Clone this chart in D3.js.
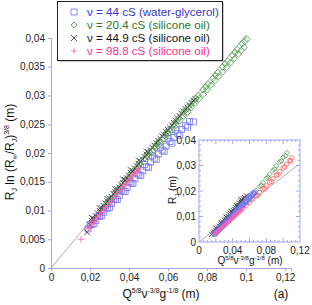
<!DOCTYPE html>
<html>
<head>
<meta charset="utf-8">
<script src="https://cdn.jsdelivr.net/npm/d3@7"></script>
<style>
  body { margin: 0; background: #fff; }
  svg { font-family: "Liberation Sans", Arial, sans-serif; }
</style>
</head>
<body>
<div id="chart"></div>
<script>
// main plot: R_J ln(R_inf/R_J)^(3/8) vs Q^(5/8) nu^(-3/8) g^(-1/8)
var waterGlyMain = [[0.019,0.0068],[0.021,0.0076],[0.023,0.0083],[0.025,0.0090],[0.027,0.0097],[0.029,0.0104],[0.031,0.0112],[0.033,0.0119],[0.035,0.0126],[0.037,0.0133],[0.039,0.0140],[0.041,0.0148],[0.043,0.0155],[0.045,0.0162],[0.047,0.0169],[0.049,0.0176],[0.051,0.0184],[0.053,0.0191],[0.055,0.0198],[0.057,0.0205],[0.059,0.0212],[0.061,0.0220],[0.063,0.0227],[0.065,0.0234],[0.067,0.0241],[0.069,0.0248],[0.071,0.0255],
  [0.020,0.0075],[0.024,0.0090],[0.028,0.0105],[0.032,0.0120],[0.036,0.0135],[0.040,0.0150],[0.044,0.0165],[0.048,0.0180],[0.052,0.0195],[0.056,0.0210],[0.060,0.0225],[0.064,0.0240],
  [0.022,0.0077],[0.026,0.0091],[0.030,0.0105],[0.034,0.0119],[0.038,0.0133],[0.042,0.0147],[0.046,0.0161],[0.050,0.0175],[0.054,0.0189],[0.058,0.0203],[0.062,0.0217],[0.066,0.0231],[0.070,0.0245],[0.073,0.0254]];
var sil20Main = [[0.028,0.0111],[0.0305,0.0121],[0.033,0.0131],[0.0355,0.0141],[0.038,0.0151],[0.0405,0.0161],[0.043,0.0171],[0.0455,0.0181],[0.048,0.0191],[0.0505,0.0201],[0.053,0.0211],[0.0555,0.0221],[0.058,0.0231],[0.0605,0.0241],[0.063,0.0251],[0.0655,0.0261],[0.068,0.0271],[0.0705,0.0281],[0.073,0.0291],[0.0755,0.0300],[0.078,0.0310],[0.0805,0.0320],[0.083,0.0330],[0.0855,0.0340],[0.088,0.0350],[0.0905,0.0360],[0.093,0.0370],[0.0955,0.0380],[0.098,0.0390],[0.1005,0.0398],
  [0.0293,0.0116],[0.0343,0.0136],[0.0393,0.0156],[0.0443,0.0176],[0.0493,0.0196],[0.0543,0.0216],[0.0593,0.0236],[0.0643,0.0256],[0.0693,0.0276],[0.0743,0.0295],[0.0793,0.0315],[0.0843,0.0335],[0.0893,0.0355],[0.0943,0.0375],[0.0993,0.0394],
  [0.052,0.0202],[0.056,0.0217],[0.060,0.0233],[0.064,0.0248],[0.068,0.0264],[0.072,0.0279],[0.076,0.0295],[0.080,0.0310],[0.084,0.0326],[0.088,0.0341],[0.092,0.0357],[0.096,0.0372],[0.099,0.0384],
  [0.054,0.0210],[0.058,0.0225],[0.062,0.0240],[0.066,0.0256],[0.070,0.0271],[0.074,0.0287],[0.078,0.0302],[0.082,0.0318],[0.086,0.0333],[0.090,0.0349],[0.094,0.0364],[0.0975,0.0378]];
var sil45Main = [[0.0185,0.0062],[0.020,0.0075],[0.022,0.0086],[0.024,0.0095],[0.026,0.0104],[0.028,0.0112],[0.030,0.0121],[0.032,0.0129],[0.034,0.0137],[0.036,0.0145],[0.038,0.0153],[0.040,0.0161],[0.042,0.0169],[0.044,0.0177],[0.046,0.0185],[0.048,0.0193],[0.050,0.0201],[0.052,0.0209],[0.054,0.0217],[0.056,0.0225],[0.058,0.0232],[0.060,0.0240],[0.062,0.0248],[0.064,0.0256],[0.066,0.0264],[0.068,0.0272],[0.070,0.0279],[0.072,0.0287],[0.074,0.0294],
  [0.021,0.0082],[0.023,0.0090],[0.025,0.0099],[0.027,0.0108],[0.029,0.0116],[0.031,0.0124],[0.033,0.0132],[0.035,0.0140],[0.037,0.0148],[0.039,0.0156],[0.041,0.0165],[0.043,0.0173],[0.045,0.0181],[0.047,0.0189],[0.049,0.0197],[0.051,0.0205],[0.053,0.0213],[0.055,0.0221],[0.057,0.0229],[0.059,0.0236],[0.061,0.0244],[0.063,0.0252],[0.065,0.0260],[0.067,0.0268],[0.069,0.0276],[0.071,0.0283],[0.073,0.0291],
  [0.021,0.0087],[0.025,0.0104],[0.029,0.0120],[0.033,0.0137],[0.037,0.0154],[0.041,0.0170],[0.045,0.0187],[0.049,0.0203]];
var sil99Main = [[0.0154,0.0050],[0.019,0.0068],[0.021,0.0077],[0.023,0.0085],[0.025,0.0093],[0.027,0.0101],[0.029,0.0109],[0.031,0.0117],[0.033,0.0125],[0.035,0.0133],[0.037,0.0141],[0.039,0.0149],[0.041,0.0157],[0.043,0.0165],[0.045,0.0172],
  [0.020,0.0073],[0.022,0.0081],[0.024,0.0089],[0.026,0.0097],[0.028,0.0105],[0.030,0.0113],[0.032,0.0121],[0.034,0.0129],[0.036,0.0137],[0.038,0.0145],[0.040,0.0153],[0.042,0.0161],[0.044,0.0168]];
var refLineMain = [[0, 0], [0.1, 0.0405]];

// inset: R_J vs Q^(5/8) nu^(-3/8) g^(-1/8)
var waterGlyInset = [[0.018,0.0030],[0.021,0.0040],[0.024,0.0050],[0.027,0.0060],[0.030,0.0070],[0.033,0.0080],[0.036,0.0091],[0.039,0.0101],[0.042,0.0111],[0.045,0.0122],[0.048,0.0132],[0.051,0.0143],[0.054,0.0153],[0.057,0.0164],[0.060,0.0174],[0.063,0.0184],[0.066,0.0194],
  [0.0195,0.0035],[0.0225,0.0045],[0.0255,0.0055],[0.0285,0.0065],[0.0315,0.0075],[0.0345,0.0085],[0.0375,0.0096],[0.0405,0.0106],[0.0435,0.0117],[0.0465,0.0127],[0.0495,0.0138],[0.0525,0.0148],[0.0555,0.0158],[0.0585,0.0169],[0.0615,0.0179],[0.0645,0.0189]];
var sil20Inset = [[0.020,0.0045],[0.024,0.0057],[0.028,0.0069],[0.032,0.0082],[0.036,0.0095],[0.040,0.0108],[0.044,0.0121],[0.048,0.0134],[0.052,0.0148],[0.056,0.0161],[0.060,0.0174],[0.064,0.0187],[0.068,0.0202],[0.072,0.0218],[0.076,0.0234],[0.080,0.0250],[0.084,0.0266],[0.088,0.0282],[0.092,0.0299],[0.096,0.0315],[0.100,0.0332],[0.1045,0.0350],
  [0.066,0.0190],[0.074,0.0222],[0.082,0.0254],[0.090,0.0286],[0.098,0.0318],[0.103,0.0338]];
var sil45Inset = [[0.015,0.0030],[0.018,0.0040],[0.021,0.0051],[0.024,0.0062],[0.027,0.0073],[0.030,0.0085],[0.033,0.0096],[0.036,0.0107],[0.039,0.0118],[0.042,0.0129],[0.045,0.0141],[0.048,0.0152],[0.051,0.0164],[0.054,0.0175],[0.056,0.0182],
  [0.0165,0.0035],[0.0195,0.0046],[0.0225,0.0057],[0.0255,0.0068],[0.0285,0.0079],[0.0315,0.0090],[0.0345,0.0101],[0.0375,0.0112],[0.0405,0.0124],[0.0435,0.0135],[0.0465,0.0146],[0.0495,0.0158],[0.0525,0.0170],
  [0.020,0.0055],[0.026,0.0077],[0.032,0.0099],[0.038,0.0121],[0.044,0.0144],[0.050,0.0166]];
var sil99Inset = [[0.019,0.0033],[0.022,0.0042],[0.025,0.0051],[0.028,0.0060],[0.031,0.0069],[0.034,0.0078],[0.037,0.0087],[0.040,0.0096],[0.043,0.0105],[0.046,0.0114],[0.049,0.0123],[0.051,0.0129],
  [0.0205,0.0037],[0.0235,0.0046],[0.0265,0.0055],[0.0295,0.0064],[0.0325,0.0073],[0.0355,0.0082],[0.0385,0.0091],[0.0415,0.0100],[0.0445,0.0109],[0.0475,0.0118]];
var otherInset = [[0.020,0.0040],[0.024,0.0051],[0.028,0.0062],[0.032,0.0073],[0.036,0.0084],[0.040,0.0095],[0.044,0.0107],[0.048,0.0119],[0.052,0.0131],[0.056,0.0143],[0.060,0.0155],[0.064,0.0168],[0.068,0.0181],[0.072,0.0194],[0.076,0.0207],[0.080,0.0220],[0.084,0.0234],[0.088,0.0248],[0.092,0.0262],[0.096,0.0276],[0.100,0.0290],[0.104,0.0305],[0.108,0.0320],[0.1105,0.0330],
  [0.070,0.0184],[0.078,0.0210],[0.086,0.0237],[0.094,0.0265],[0.102,0.0294],[0.109,0.0318]];
var refLineInset = [[0, 0], [0.118, 0.0303]];

var mainXTicks = [0, 0.02, 0.04, 0.06, 0.08, 0.1, 0.12];
var mainYTicks = [0, 0.005, 0.01, 0.015, 0.02, 0.025, 0.03, 0.035, 0.04];
var insetXTicks = [0, 0.04, 0.08, 0.12];
var insetYTicks = [0, 0.01, 0.02, 0.03, 0.04];

var legendLabels = ["\u03bd = 44 cS (water-glycerol)", "\u03bd = 20.4 cS (silicone oil)", "\u03bd = 44.9 cS (silicone oil)", "\u03bd = 98.8 cS (silicone oil)"];

var axisColor = "#a3a3ff";
var fmt = function(d){ return d === 0 ? "0" : String(d).replace(".", ","); };

// marker path builders
function markerPath(type, s){
    var h = s / 2;
    if (type == "square") return "M" + (-h) + "," + (-h) + "h" + s + "v" + s + "h" + (-s) + "Z";
    if (type == "diamond") return "M0," + (-h) + "L" + h + ",0L0," + h + "L" + (-h) + ",0Z";
    if (type == "x") return "M" + (-h) + "," + (-h) + "L" + h + "," + h + "M" + (-h) + "," + h + "L" + h + "," + (-h);
    if (type == "plus") return "M" + (-h) + ",0H" + h + "M0," + (-h) + "V" + h;
    if (type == "circle") return "M" + h + ",0A" + h + "," + h + " 0 1,1 " + (-h) + ",0A" + h + "," + h + " 0 1,1 " + h + ",0";
}

var styles = {
    blue:  {type: "square",  color: "#7272ff", text: "#3535c8"},
    green: {type: "diamond", color: "#4d9a4d", text: "#2a7a2a"},
    black: {type: "x",       color: "#2a2a2a", text: "#111"},
    pink:  {type: "plus",    color: "#ff5fae", text: "#ff2f90"},
    red:   {type: "circle",  color: "#ff6464", text: "#ff3030"}
};

var svg = d3.select("#chart").append("svg")
    .attr("width", 312)
    .attr("height", 305);

function drawSeries(g, data, st, x, y, size){
    g.append("g").selectAll("path")
        .data(data)
        .enter()
        .append("path")
        .attr("transform", function(d){ return "translate(" + x(d[0]) + "," + y(d[1]) + ")"; })
        .attr("d", markerPath(st.type, size))
        .attr("fill", "none")
        .attr("stroke", st.color)
        .attr("stroke-width", 0.8);
}

// ---- main plot ----
var x = d3.scaleLinear().domain([0, 0.123]).range([51, 291]);
var y = d3.scaleLinear().domain([0, 0.04]).range([268, 38]);

var xAxis = d3.axisBottom(x).tickValues(mainXTicks).tickFormat(fmt).tickSize(3).tickPadding(3);
var yAxis = d3.axisLeft(y).tickValues(mainYTicks).tickFormat(fmt).tickSize(3).tickPadding(3);

var gx = svg.append("g")
    .attr("transform", "translate(0," + y(0) + ")")
    .call(xAxis);
var gy = svg.append("g")
    .attr("transform", "translate(" + x(0) + ",0)")
    .call(yAxis);
[gx, gy].forEach(function(g){
    g.select(".domain").attr("stroke", axisColor);
    g.selectAll(".tick line").attr("stroke", axisColor);
    g.selectAll(".tick text").attr("fill", "#222").style("font-size", "10px").style("font-family", "Liberation Sans, Arial, sans-serif");
});

var line = d3.line()
    .x(function(d){ return x(d[0]); })
    .y(function(d){ return y(d[1]); });

svg.append("path")
    .datum(refLineMain)
    .attr("d", line)
    .attr("stroke", "#999")
    .attr("stroke-width", 0.8)
    .attr("fill", "none");

drawSeries(svg, waterGlyMain, styles.blue, x, y, 6);
drawSeries(svg, sil45Main, styles.black, x, y, 6);
drawSeries(svg, sil20Main, styles.green, x, y, 6.5);
drawSeries(svg, sil99Main, styles.pink, x, y, 7);

// axis labels
var ylab = svg.append("text")
    .attr("transform", "translate(14,152) rotate(-90)")
    .attr("text-anchor", "middle")
    .style("font-size", "12px")
    .attr("fill", "#111");
ylab.append("tspan").text("R");
ylab.append("tspan").attr("dy", 3).style("font-size", "7px").text("J");
ylab.append("tspan").attr("dy", -3).text(" ln (R");
ylab.append("tspan").attr("dy", 3).style("font-size", "7px").text("\u221e");
ylab.append("tspan").attr("dy", -3).text("/R");
ylab.append("tspan").attr("dy", 3).style("font-size", "7px").text("J");
ylab.append("tspan").attr("dy", -3).text(")");
ylab.append("tspan").attr("dy", -5).style("font-size", "7px").text("3/8");
ylab.append("tspan").attr("dy", 5).text(" (m)");

function qLabel(t, big, small, up){
    t.append("tspan").text("Q");
    t.append("tspan").attr("dy", -up).style("font-size", small + "px").text("5/8");
    t.append("tspan").attr("dy", up).text("\u03bd");
    t.append("tspan").attr("dy", -up).style("font-size", small + "px").text("-3/8");
    t.append("tspan").attr("dy", up).text("g");
    t.append("tspan").attr("dy", -up).style("font-size", small + "px").text("-1/8");
    t.append("tspan").attr("dy", up).text(" (m)");
}

var xlab = svg.append("text")
    .attr("x", 161).attr("y", 298)
    .attr("text-anchor", "middle")
    .style("font-size", "12px")
    .attr("fill", "#111");
qLabel(xlab, 12, 7, 5);

svg.append("text")
    .attr("x", 281).attr("y", 298)
    .attr("text-anchor", "middle")
    .style("font-size", "12px")
    .attr("fill", "#111")
    .text("(a)");

// ---- legend ----
var leg = svg.append("g");
leg.append("rect")
    .attr("x", 58.5).attr("y", 2.5)
    .attr("width", 165).attr("height", 59)
    .attr("fill", "#999");
leg.append("rect")
    .attr("x", 57.5).attr("y", 1.5)
    .attr("width", 165).attr("height", 59)
    .attr("fill", "#fff")
    .attr("stroke", "#222")
    .attr("stroke-width", 1);
var legStyles = [styles.blue, styles.green, styles.black, styles.pink];
legendLabels.forEach(function(lbl, i){
    var yy = 12 + i * 13;
    leg.append("path")
        .attr("transform", "translate(74," + yy + ")")
        .attr("d", markerPath(legStyles[i].type, 6))
        .attr("fill", "none")
        .attr("stroke", legStyles[i].color)
        .attr("stroke-width", 0.8);
    leg.append("text")
        .attr("x", 87).attr("y", yy + 4)
        .style("font-size", "11.6px")
        .attr("fill", legStyles[i].text)
        .text(lbl);
});

// ---- inset ----
var ix = d3.scaleLinear().domain([0, 0.12]).range([199, 300]);
var iy = d3.scaleLinear().domain([0, 0.04]).range([242, 140]);

var inset = svg.append("g");
inset.append("rect")
    .attr("x", 199).attr("y", 140)
    .attr("width", 101).attr("height", 102)
    .attr("fill", "#fff")
    .attr("stroke", axisColor)
    .attr("stroke-width", 1);

var minorX = d3.range(1, 24).map(function(i){ return i * 0.005; });
var minorY = d3.range(1, 20).map(function(i){ return i * 0.002; });
inset.append("g").selectAll("line.mx")
    .data(minorX).enter().append("line")
    .attr("x1", function(d){ return ix(d); }).attr("x2", function(d){ return ix(d); })
    .attr("y1", 140).attr("y2", function(d, i){ return (i % 4 == 3) ? 144 : 142; })
    .attr("stroke", axisColor);
inset.append("g").selectAll("line.mxb")
    .data(minorX).enter().append("line")
    .attr("x1", function(d){ return ix(d); }).attr("x2", function(d){ return ix(d); })
    .attr("y1", 242).attr("y2", function(d, i){ return (i % 4 == 3) ? 238 : 240; })
    .attr("stroke", axisColor);
inset.append("g").selectAll("line.my")
    .data(minorY).enter().append("line")
    .attr("y1", function(d){ return iy(d); }).attr("y2", function(d){ return iy(d); })
    .attr("x1", 199).attr("x2", function(d, i){ return (i % 5 == 4) ? 203 : 201; })
    .attr("stroke", axisColor);
inset.append("g").selectAll("line.myr")
    .data(minorY).enter().append("line")
    .attr("y1", function(d){ return iy(d); }).attr("y2", function(d){ return iy(d); })
    .attr("x1", 300).attr("x2", function(d, i){ return (i % 5 == 4) ? 296 : 298; })
    .attr("stroke", axisColor);

inset.append("g").selectAll("text.xt")
    .data(insetXTicks).enter().append("text")
    .attr("x", function(d){ return ix(d); }).attr("y", 254)
    .attr("text-anchor", "middle")
    .style("font-size", "10px").attr("fill", "#222")
    .text(fmt);
inset.append("g").selectAll("text.yt")
    .data(insetYTicks).enter().append("text")
    .attr("x", 196).attr("y", function(d){ return iy(d) + 3.5; })
    .attr("text-anchor", "end")
    .style("font-size", "10px").attr("fill", "#222")
    .text(fmt);

var iline = d3.line()
    .x(function(d){ return ix(d[0]); })
    .y(function(d){ return iy(d[1]); });
inset.append("path")
    .datum(refLineInset)
    .attr("d", iline)
    .attr("stroke", "#999")
    .attr("stroke-width", 0.8)
    .attr("fill", "none");

drawSeries(inset, otherInset, styles.red, ix, iy, 4.5);
drawSeries(inset, sil20Inset, styles.green, ix, iy, 5);
drawSeries(inset, sil45Inset, styles.black, ix, iy, 5);
drawSeries(inset, waterGlyInset, styles.blue, ix, iy, 4.5);
drawSeries(inset, sil99Inset, styles.pink, ix, iy, 5);

var ixlab = inset.append("text")
    .attr("x", 250).attr("y", 264)
    .attr("text-anchor", "middle")
    .style("font-size", "10px")
    .attr("fill", "#111");
qLabel(ixlab, 10, 6, 4);

var iylab = inset.append("text")
    .attr("transform", "translate(176,190) rotate(-90)")
    .attr("text-anchor", "middle")
    .style("font-size", "10px")
    .attr("fill", "#111");
iylab.append("tspan").text("R");
iylab.append("tspan").attr("dy", 3).style("font-size", "6px").text("J");
iylab.append("tspan").attr("dy", -3).text(" (m)");
</script>
</body>
</html>
